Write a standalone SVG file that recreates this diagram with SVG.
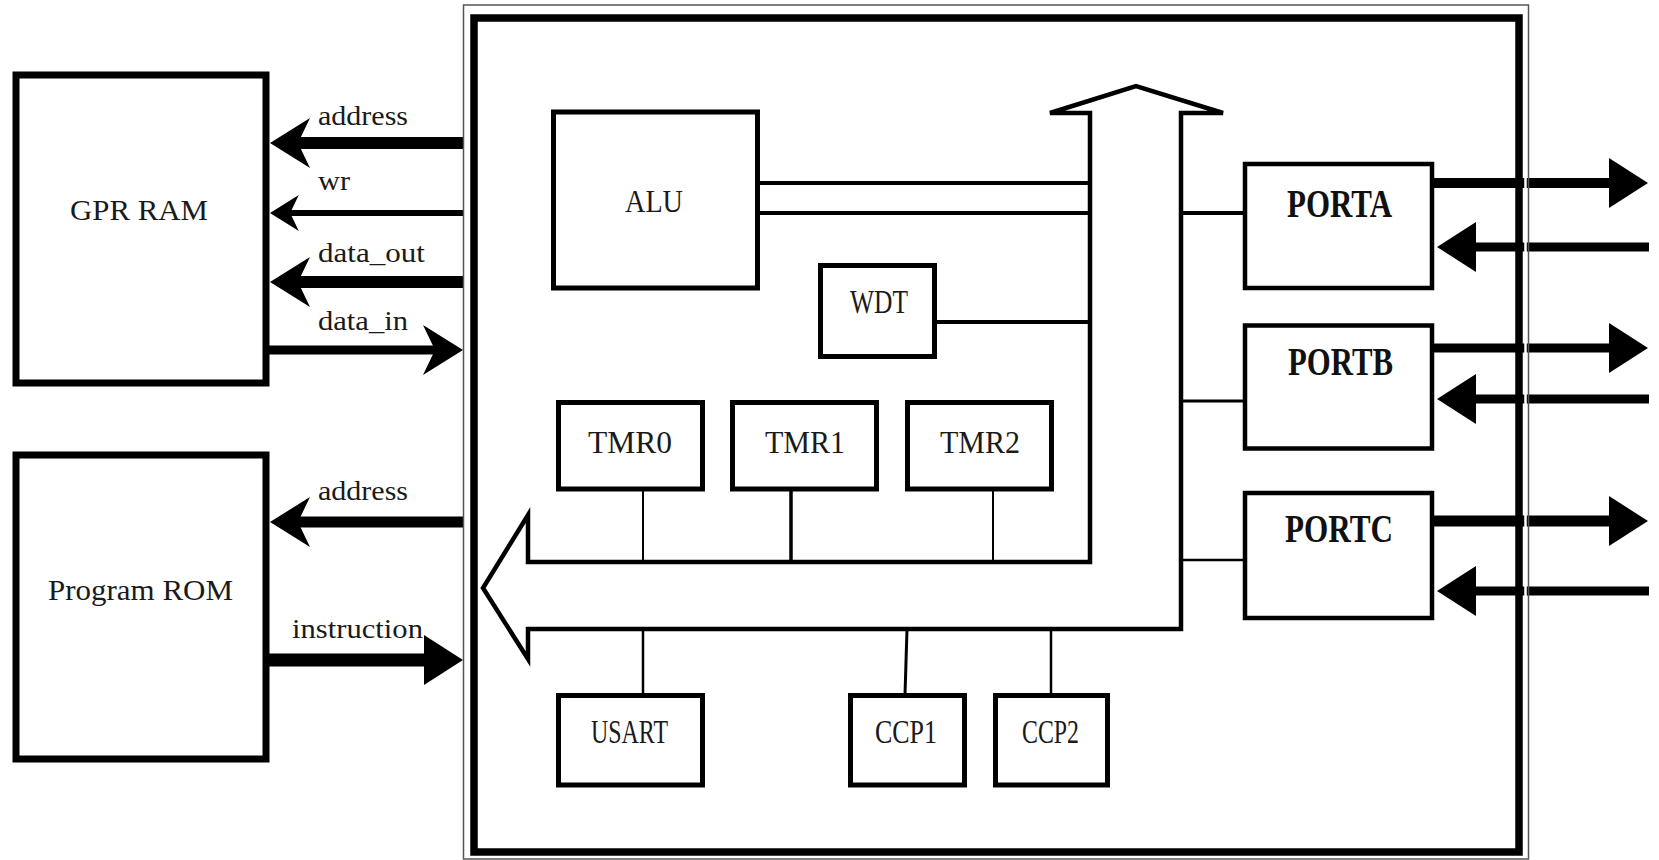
<svg xmlns="http://www.w3.org/2000/svg" width="1659" height="860" viewBox="0 0 1659 860">
  <style>
    .box { fill: #fff; stroke: #000; stroke-linejoin: miter; }
    .mem { stroke-width: 7; }
    .blk { stroke-width: 5; }
    .prt { stroke-width: 4.5; }
    .bus { fill: none; stroke: #000; stroke-width: 4.5; stroke-linejoin: miter; }
    .wire { stroke: #000; fill: none; }
    .head { fill: #000; }
    .txt { font-family: "Liberation Serif", "Times New Roman", serif; fill: #1a1a1a; }
    .t-mem { font-size: 30px; }
    .t-sig { font-size: 27px; }
    .t-blk { font-size: 32px; }
    .t-prt { font-size: 40px; font-weight: bold; fill: #111; }
  </style>
  <defs>
    <!-- notched arrowhead, pointing left, tip at origin -->
    <path id="barb" d="M0,0 L40,-25 L28,0 L40,25 Z"/>
    <!-- plain triangular arrowhead, pointing left, tip at origin -->
    <path id="tri" d="M0,0 L39,-25 L39,25 Z"/>
  </defs>

  <rect width="1659" height="860" fill="#fff"/>

  <!-- external memories -->
  <g id="gpr-ram">
    <rect class="box mem" x="16" y="75" width="250" height="308"/>
    <text class="txt t-mem" x="70" y="220" textLength="138" lengthAdjust="spacingAndGlyphs">GPR RAM</text>
  </g>
  <g id="program-rom">
    <rect class="box mem" x="16" y="455" width="250" height="304"/>
    <text class="txt t-mem" x="48" y="600" textLength="185" lengthAdjust="spacingAndGlyphs">Program ROM</text>
  </g>

  <!-- internal bus: up arrow joined to a left arrow -->
  <g id="bus">
    <path class="bus" d="M1090,562 L528,562 L528,515 L483,588 L528,659 L528,629 L1181,629 L1181,113 L1223,113 L1136,86 L1050,113 L1090,113 Z"/>
  </g>

  <!-- peripheral blocks -->
  <g id="alu">
    <rect class="box blk" x="553.5" y="112" width="204" height="176"/>
    <text class="txt t-blk" x="625" y="211.5" textLength="58" lengthAdjust="spacingAndGlyphs" style="font-size:31px">ALU</text>
  </g>
  <g id="wdt">
    <rect class="box blk" x="820.5" y="265.5" width="114" height="91"/>
    <text class="txt t-blk" x="850" y="313" textLength="58" lengthAdjust="spacingAndGlyphs" style="font-size:33px">WDT</text>
  </g>
  <g id="tmr0">
    <rect class="box blk" x="558.5" y="402.5" width="144" height="86.5"/>
    <text class="txt t-blk" x="588" y="453" textLength="84" lengthAdjust="spacingAndGlyphs">TMR0</text>
  </g>
  <g id="tmr1">
    <rect class="box blk" x="732.5" y="402.5" width="144" height="86.5"/>
    <text class="txt t-blk" x="765" y="453" textLength="80" lengthAdjust="spacingAndGlyphs">TMR1</text>
  </g>
  <g id="tmr2">
    <rect class="box blk" x="907.5" y="402.5" width="144" height="86.5"/>
    <text class="txt t-blk" x="940" y="453" textLength="80" lengthAdjust="spacingAndGlyphs">TMR2</text>
  </g>
  <g id="usart">
    <rect class="box blk" x="558.5" y="695.5" width="144" height="89.5"/>
    <text class="txt t-blk" x="591" y="743" textLength="77" lengthAdjust="spacingAndGlyphs" style="font-size:33px">USART</text>
  </g>
  <g id="ccp1">
    <rect class="box blk" x="850.5" y="695.5" width="114" height="89.5"/>
    <text class="txt t-blk" x="875" y="743" textLength="62" lengthAdjust="spacingAndGlyphs" style="font-size:33px">CCP1</text>
  </g>
  <g id="ccp2">
    <rect class="box blk" x="995.5" y="695.5" width="112" height="89.5"/>
    <text class="txt t-blk" x="1022" y="743" textLength="57" lengthAdjust="spacingAndGlyphs" style="font-size:33px">CCP2</text>
  </g>

  <!-- I/O ports -->
  <g id="porta">
    <rect class="box prt" x="1245" y="164" width="187" height="124"/>
    <text class="txt t-prt" x="1287" y="217" textLength="105" lengthAdjust="spacingAndGlyphs">PORTA</text>
  </g>
  <g id="portb">
    <rect class="box prt" x="1245" y="325.5" width="187" height="123"/>
    <text class="txt t-prt" x="1288" y="375" textLength="105" lengthAdjust="spacingAndGlyphs">PORTB</text>
  </g>
  <g id="portc">
    <rect class="box prt" x="1245" y="493" width="187" height="125"/>
    <text class="txt t-prt" x="1285" y="542" textLength="108" lengthAdjust="spacingAndGlyphs">PORTC</text>
  </g>

  <!-- connectors -->
  <g id="connectors">
    <!-- memory interface -->
    <line class="wire" x1="296" y1="143" x2="464" y2="143" stroke-width="12"/>
    <use href="#barb" class="head" transform="translate(270,143)"/>
    <line class="wire" x1="290" y1="213" x2="464" y2="213" stroke-width="6"/>
    <use href="#barb" class="head" transform="translate(270,213) scale(0.72)"/>
    <line class="wire" x1="296" y1="282" x2="464" y2="282" stroke-width="12"/>
    <use href="#barb" class="head" transform="translate(270,282)"/>
    <line class="wire" x1="266" y1="350" x2="438" y2="350" stroke-width="9"/>
    <use href="#barb" class="head" transform="translate(463,350) rotate(180)"/>
    <line class="wire" x1="296" y1="522" x2="464" y2="522" stroke-width="11"/>
    <use href="#barb" class="head" transform="translate(270,522)"/>
    <line class="wire" x1="266" y1="660" x2="428" y2="660" stroke-width="13"/>
    <use href="#tri" class="head" transform="translate(463,660) rotate(180)"/>

    <!-- signal labels -->
    <text class="txt t-sig" x="318" y="125" textLength="90" lengthAdjust="spacingAndGlyphs">address</text>
    <text class="txt t-sig" x="318" y="190" textLength="32" lengthAdjust="spacingAndGlyphs">wr</text>
    <text class="txt t-sig" x="318" y="262" textLength="107" lengthAdjust="spacingAndGlyphs">data_out</text>
    <text class="txt t-sig" x="318" y="330" textLength="90" lengthAdjust="spacingAndGlyphs">data_in</text>
    <text class="txt t-sig" x="318" y="500" textLength="90" lengthAdjust="spacingAndGlyphs">address</text>
    <text class="txt t-sig" x="292" y="638" textLength="131" lengthAdjust="spacingAndGlyphs">instruction</text>

    <!-- blocks to bus -->
    <line class="wire" x1="757" y1="183" x2="1090" y2="183" stroke-width="4"/>
    <line class="wire" x1="757" y1="213" x2="1090" y2="213" stroke-width="4"/>
    <line class="wire" x1="934" y1="322" x2="1090" y2="322" stroke-width="4"/>
    <line class="wire" x1="643" y1="489" x2="643" y2="562" stroke-width="2"/>
    <line class="wire" x1="791" y1="489" x2="791" y2="562" stroke-width="3.5"/>
    <line class="wire" x1="993" y1="489" x2="993" y2="562" stroke-width="2"/>
    <line class="wire" x1="643" y1="629" x2="643" y2="695" stroke-width="2.5"/>
    <line class="wire" x1="907" y1="629" x2="905" y2="695" stroke-width="3"/>
    <line class="wire" x1="1051" y1="629" x2="1051" y2="695" stroke-width="2.5"/>

    <!-- bus to ports -->
    <line class="wire" x1="1181" y1="213" x2="1245" y2="213" stroke-width="4"/>
    <line class="wire" x1="1181" y1="401" x2="1245" y2="401" stroke-width="3" stroke="#555"/>
    <line class="wire" x1="1181" y1="560" x2="1245" y2="560" stroke-width="2.5" stroke="#666"/>

    <!-- port pins -->
    <line class="wire" x1="1432" y1="183" x2="1612" y2="183" stroke-width="10"/>
    <use href="#tri" class="head" transform="translate(1648,183) rotate(180)"/>
    <line class="wire" x1="1472" y1="247" x2="1649" y2="247" stroke-width="9"/>
    <use href="#tri" class="head" transform="translate(1437,247)"/>
    <line class="wire" x1="1432" y1="348" x2="1612" y2="348" stroke-width="9"/>
    <use href="#tri" class="head" transform="translate(1648,348) rotate(180)"/>
    <line class="wire" x1="1472" y1="399" x2="1649" y2="399" stroke-width="9"/>
    <use href="#tri" class="head" transform="translate(1437,399)"/>
    <line class="wire" x1="1432" y1="521" x2="1612" y2="521" stroke-width="11"/>
    <use href="#tri" class="head" transform="translate(1648,521) rotate(180)"/>
    <line class="wire" x1="1472" y1="591" x2="1649" y2="591" stroke-width="9"/>
    <use href="#tri" class="head" transform="translate(1437,591)"/>
  </g>

  <!-- microcontroller outline (double frame) -->
  <g id="mcu">
    <rect x="474" y="18" width="1045" height="834" fill="none" stroke="#000" stroke-width="7.5"/>
    <line x1="1525.5" y1="0" x2="1525.5" y2="860" stroke="#fff" stroke-width="2.5"/>
    <rect x="463.5" y="5" width="1065" height="854" fill="none" stroke="#555" stroke-width="1.5"/>
  </g>
</svg>
